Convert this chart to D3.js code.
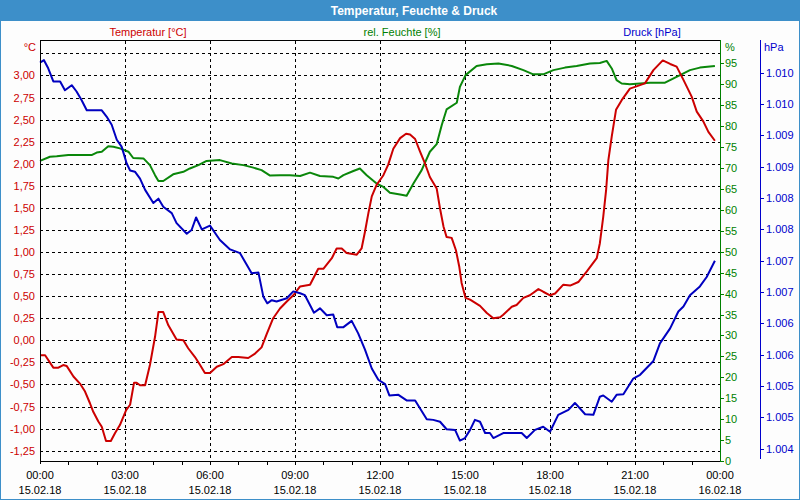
<!DOCTYPE html>
<html>
<head>
<meta charset="utf-8">
<script src="https://cdn.jsdelivr.net/npm/d3@7"></script>
<style>
  body { margin: 0; background: #fff; }
  svg { display: block; font-family: "Liberation Sans", Arial, sans-serif; }
</style>
</head>
<body>
<svg id="chart" width="800" height="500"></svg>
<script>
// readings, [hour since 15.02.18 00:00, value]
var tempSeries = [
  [0.00,-0.17],[0.18,-0.17],[0.47,-0.31],[0.65,-0.31],[0.82,-0.28],[0.94,-0.29],[1.18,-0.41],[1.41,-0.49],
  [1.59,-0.58],[1.76,-0.71],[1.88,-0.81],[2.06,-0.92],[2.18,-0.98],[2.33,-1.14],[2.50,-1.14],[2.65,-1.05],
  [2.82,-0.96],[3.04,-0.79],[3.18,-0.73],[3.32,-0.48],[3.41,-0.48],[3.53,-0.51],[3.71,-0.51],[3.88,-0.28],
  [4.06,0.04],[4.18,0.32],[4.35,0.32],[4.53,0.17],[4.82,0.01],[5.06,0.00],[5.23,-0.09],[5.47,-0.19],
  [5.65,-0.28],[5.82,-0.37],[6.00,-0.37],[6.24,-0.30],[6.47,-0.27],[6.77,-0.19],[7.00,-0.19],[7.35,-0.20],
  [7.59,-0.15],[7.82,-0.08],[8.00,0.07],[8.23,0.25],[8.47,0.36],[8.71,0.44],[8.94,0.51],[9.18,0.61],
  [9.53,0.63],[9.82,0.81],[10.00,0.81],[10.30,0.93],[10.47,1.04],[10.65,1.04],[10.82,0.99],[11.18,0.97],
  [11.35,1.04],[11.47,1.23],[11.59,1.44],[11.71,1.63],[11.88,1.76],[12.12,1.87],[12.29,1.99],[12.47,2.17],
  [12.71,2.29],[12.92,2.34],[13.06,2.33],[13.24,2.28],[13.41,2.14],[13.59,2.00],[13.76,1.85],[14.00,1.72],
  [14.12,1.49],[14.24,1.29],[14.35,1.17],[14.53,1.16],[14.68,1.02],[14.80,0.83],[14.88,0.65],[15.02,0.48],
  [15.18,0.46],[15.53,0.39],[15.77,0.31],[16.00,0.25],[16.24,0.26],[16.35,0.29],[16.65,0.38],[16.82,0.40],
  [17.06,0.48],[17.29,0.51],[17.59,0.58],[17.76,0.55],[18.00,0.51],[18.18,0.53],[18.47,0.63],[18.71,0.62],
  [19.00,0.66],[19.30,0.78],[19.65,0.93],[19.76,1.10],[19.88,1.40],[19.98,1.70],[20.06,2.04],[20.18,2.31],
  [20.33,2.61],[20.53,2.72],[20.82,2.85],[21.00,2.87],[21.35,2.91],[21.65,3.06],[21.98,3.17],[22.24,3.13],
  [22.47,3.10],[22.71,2.95],[23.00,2.76],[23.18,2.59],[23.41,2.48],[23.59,2.36],[23.82,2.26]
];
var humSeries = [
  [0.00,71.7],[0.35,72.7],[0.59,72.8],[1.00,73.1],[1.82,73.1],[2.00,73.7],[2.18,73.9],[2.41,75.2],
  [2.59,75.1],[2.82,74.7],[3.12,73.9],[3.29,72.4],[3.65,72.3],[3.88,70.7],[4.06,68.3],[4.18,66.9],
  [4.35,66.9],[4.70,68.5],[5.06,69.1],[5.29,69.9],[5.59,70.7],[5.88,71.7],[6.35,71.9],[6.77,71.1],
  [7.18,70.7],[7.53,70.1],[7.82,69.5],[8.12,68.2],[8.47,68.3],[8.82,68.3],[9.18,68.1],[9.53,68.9],
  [9.88,68.1],[10.35,67.9],[10.53,67.5],[10.71,68.3],[11.06,69.3],[11.29,69.9],[11.53,68.3],[11.88,66.3],
  [12.12,65.5],[12.35,64.1],[12.71,63.7],[12.94,63.4],[13.18,66.3],[13.47,69.5],[13.76,73.9],[14.00,75.7],
  [14.18,80.3],[14.35,84.0],[14.71,85.6],[14.82,89.4],[15.02,92.2],[15.41,94.4],[15.77,94.8],[16.18,95.0],
  [16.65,94.4],[17.06,93.4],[17.41,92.4],[17.76,92.4],[18.12,93.4],[18.53,94.0],[18.94,94.4],[19.41,95.0],
  [19.76,95.1],[20.00,95.6],[20.18,93.8],[20.35,91.0],[20.53,90.2],[20.82,90.0],[21.18,90.2],[21.53,90.4],
  [22.06,90.4],[22.29,91.2],[22.59,92.2],[22.94,93.4],[23.29,94.0],[23.82,94.4]
];
var pressSeries = [
  [0.00,1010.16],[0.14,1010.20],[0.29,1010.07],[0.47,1009.86],[0.71,1009.86],[0.88,1009.72],[1.12,1009.80],
  [1.29,1009.70],[1.47,1009.56],[1.65,1009.40],[2.18,1009.40],[2.35,1009.30],[2.53,1009.17],[2.71,1008.93],
  [2.88,1008.82],[3.06,1008.55],[3.18,1008.44],[3.35,1008.42],[3.53,1008.31],[3.71,1008.13],[4.00,1007.92],
  [4.18,1007.99],[4.35,1007.86],[4.65,1007.76],[4.82,1007.60],[5.18,1007.43],[5.35,1007.49],[5.51,1007.69],
  [5.71,1007.50],[6.00,1007.56],[6.35,1007.33],[6.71,1007.18],[7.06,1007.12],[7.47,1006.80],[7.71,1006.81],
  [7.88,1006.43],[8.02,1006.32],[8.18,1006.37],[8.35,1006.35],[8.71,1006.40],[8.94,1006.51],[9.18,1006.48],
  [9.35,1006.45],[9.67,1006.17],[9.88,1006.24],[10.12,1006.13],[10.35,1006.14],[10.49,1005.94],[10.71,1005.94],
  [11.00,1006.04],[11.23,1005.84],[11.47,1005.58],[11.71,1005.28],[11.94,1005.10],[12.18,1005.03],[12.33,1004.85],
  [12.65,1004.86],[12.94,1004.77],[13.24,1004.77],[13.65,1004.47],[13.88,1004.46],[14.12,1004.43],[14.35,1004.31],
  [14.65,1004.30],[14.82,1004.13],[15.00,1004.17],[15.18,1004.30],[15.35,1004.46],[15.53,1004.43],[15.71,1004.25],
  [15.88,1004.25],[16.00,1004.17],[16.35,1004.25],[17.00,1004.25],[17.18,1004.17],[17.47,1004.30],[17.76,1004.35],
  [18.00,1004.27],[18.29,1004.54],[18.65,1004.62],[18.88,1004.73],[19.24,1004.55],[19.53,1004.54],[19.76,1004.83],
  [19.88,1004.85],[20.18,1004.75],[20.35,1004.86],[20.59,1004.87],[20.94,1005.12],[21.18,1005.18],[21.65,1005.40],
  [21.88,1005.68],[22.24,1005.92],[22.53,1006.19],[22.71,1006.27],[22.94,1006.45],[23.29,1006.59],[23.53,1006.74],
  [23.82,1007.00]
];

var timeTicks = [0, 3, 6, 9, 12, 15, 18, 21, 24];
var timeLabels = ["00:00","03:00","06:00","09:00","12:00","15:00","18:00","21:00","00:00"];
var dateLabels = ["15.02.18","15.02.18","15.02.18","15.02.18","15.02.18","15.02.18","15.02.18","15.02.18","16.02.18"];
var tempTicks = [-1.25,-1,-0.75,-0.5,-0.25,0,0.25,0.5,0.75,1,1.25,1.5,1.75,2,2.25,2.5,2.75,3];
var tempGrid = tempTicks.concat([3.25]);
var humTicks = [0,5,10,15,20,25,30,35,40,45,50,55,60,65,70,75,80,85,90,95];
var pressTicks = [1004,1004.5,1005,1005.5,1006,1006.5,1007,1007.5,1008,1008.5,1009,1009.5,1010];

var red = "#cc0000", green = "#008000", blue = "#0000cc";

var svg = d3.select("#chart");
var plotL = 40, plotR = 720, plotT = 41, plotB = 461;

var x = d3.scaleLinear().domain([0, 24]).range([plotL, plotR]);
var yT = d3.scaleLinear().domain([-1.367, 3.39]).range([plotB, plotT]);
var yH = d3.scaleLinear().domain([0, 100]).range([plotB, 42.5]);
var yP = d3.scaleLinear().domain([1004, 1010]).range([448.7, 72.7]);

// frame and title bar
svg.append("rect").attr("x", 0.5).attr("y", 0.5).attr("width", 799).attr("height", 499)
  .attr("fill", "#fdfdfd").attr("stroke", "#3d8fc9");
svg.append("rect").attr("x", 0).attr("y", 0).attr("width", 800).attr("height", 21).attr("fill", "#3d8fc9");
svg.append("text").attr("x", 414).attr("y", 14.5).attr("text-anchor", "middle")
  .attr("fill", "#fff").attr("font-weight", "bold").attr("font-size", 12)
  .text("Temperatur, Feuchte & Druck");

// series captions
svg.append("text").attr("x", 148).attr("y", 36).attr("text-anchor", "middle").attr("font-size", 11).attr("fill", red).text("Temperatur [°C]");
svg.append("text").attr("x", 402).attr("y", 36).attr("text-anchor", "middle").attr("font-size", 11).attr("fill", green).text("rel. Feuchte [%]");
svg.append("text").attr("x", 652).attr("y", 36).attr("text-anchor", "middle").attr("font-size", 11).attr("fill", blue).text("Druck [hPa]");
svg.append("text").attr("x", 36).attr("y", 51).attr("text-anchor", "end").attr("font-size", 11).attr("fill", red).text("°C");
svg.append("text").attr("x", 725).attr("y", 51).attr("font-size", 11).attr("fill", green).text("%");
svg.append("text").attr("x", 764).attr("y", 51).attr("font-size", 11).attr("fill", blue).text("hPa");

// grid
var grid = svg.append("g").attr("stroke", "#000").attr("stroke-dasharray", "3,3").attr("shape-rendering", "crispEdges");
grid.selectAll(".hg").data(tempGrid).enter().append("line")
  .attr("x1", plotL).attr("x2", plotR)
  .attr("y1", function(d) { return Math.round(yT(d)) + 0.5; })
  .attr("y2", function(d) { return Math.round(yT(d)) + 0.5; });
grid.selectAll(".vg").data(timeTicks.slice(1, -1)).enter().append("line")
  .attr("y1", plotT).attr("y2", plotB)
  .attr("x1", function(d) { return Math.round(x(d)) + 0.5; })
  .attr("x2", function(d) { return Math.round(x(d)) + 0.5; });

// series
function drawLine(data, y, color) {
  var line = d3.line()
    .x(function(d) { return x(d[0]); })
    .y(function(d) { return y(d[1]); });
  svg.append("path").datum(data).attr("d", line)
    .attr("fill", "none").attr("stroke", color).attr("stroke-width", 2).attr("stroke-linejoin", "round");
}
drawLine(humSeries, yH, "#0a870a");
drawLine(tempSeries, yT, "#cc0000");
drawLine(pressSeries, yP, "#0000c0");

// plot border lines
var axes = svg.append("g").attr("shape-rendering", "crispEdges");
axes.append("line").attr("x1", plotL).attr("x2", plotR).attr("y1", plotT - 0.5).attr("y2", plotT - 0.5).attr("stroke", "#000");
axes.append("line").attr("x1", plotL).attr("x2", plotR).attr("y1", plotB + 0.5).attr("y2", plotB + 0.5).attr("stroke", "#000");
axes.append("line").attr("x1", plotL + 0.5).attr("x2", plotL + 0.5).attr("y1", plotT - 1).attr("y2", plotB + 3).attr("stroke", "#000");

// bottom axis
var hours = d3.range(1, 24);
axes.selectAll(".mt").data(hours).enter().append("line")
  .attr("x1", function(d) { return Math.round(x(d)) + 0.5; })
  .attr("x2", function(d) { return Math.round(x(d)) + 0.5; })
  .attr("y1", plotB).attr("y2", plotB + 4).attr("stroke", "#000");
svg.selectAll(".tl").data(timeTicks).enter().append("text")
  .attr("x", function(d) { return x(d); }).attr("y", 479).attr("text-anchor", "middle")
  .attr("font-size", 11).attr("fill", "#000")
  .text(function(d, i) { return timeLabels[i]; });
svg.selectAll(".dl").data(timeTicks).enter().append("text")
  .attr("x", function(d) { return x(d); }).attr("y", 494).attr("text-anchor", "middle")
  .attr("font-size", 11).attr("fill", "#000")
  .text(function(d, i) { return dateLabels[i]; });

// left temperature labels
var fT = d3.format(".2f");
svg.selectAll(".tt").data(tempTicks).enter().append("text")
  .attr("x", 35).attr("y", function(d) { return yT(d) + 4; }).attr("text-anchor", "end")
  .attr("font-size", 11).attr("fill", red)
  .text(function(d) { return fT(d).replace(".", ",").replace("−", "-"); });

// humidity axis
axes.append("line").attr("x1", plotR + 0.5).attr("x2", plotR + 0.5).attr("y1", plotT - 1).attr("y2", plotB + 1).attr("stroke", green);
axes.selectAll(".ht").data(humTicks).enter().append("line")
  .attr("x1", plotR).attr("x2", plotR + 4)
  .attr("y1", function(d) { return Math.round(yH(d)) + 0.5; })
  .attr("y2", function(d) { return Math.round(yH(d)) + 0.5; })
  .attr("stroke", green);
svg.selectAll(".hl").data(humTicks).enter().append("text")
  .attr("x", 725).attr("y", function(d) { return yH(d) + 4; })
  .attr("font-size", 11).attr("fill", green).text(function(d) { return d; });

// pressure axis
var px = 760.5;
axes.append("line").attr("x1", px).attr("x2", px).attr("y1", plotT - 1).attr("y2", plotB - 2).attr("stroke", blue);
axes.selectAll(".pt").data(pressTicks).enter().append("line")
  .attr("x1", px).attr("x2", px + 3)
  .attr("y1", function(d) { return Math.round(yP(d)) + 0.5; })
  .attr("y2", function(d) { return Math.round(yP(d)) + 0.5; })
  .attr("stroke", blue);
svg.selectAll(".pl").data(pressTicks).enter().append("text")
  .attr("x", 766).attr("y", function(d) { return yP(d) + 4; })
  .attr("font-size", 11).attr("fill", blue)
  .text(function(d) { var s = String(Math.round(d)); return s.slice(0, 1) + "." + s.slice(1); });
</script>
</body>
</html>
